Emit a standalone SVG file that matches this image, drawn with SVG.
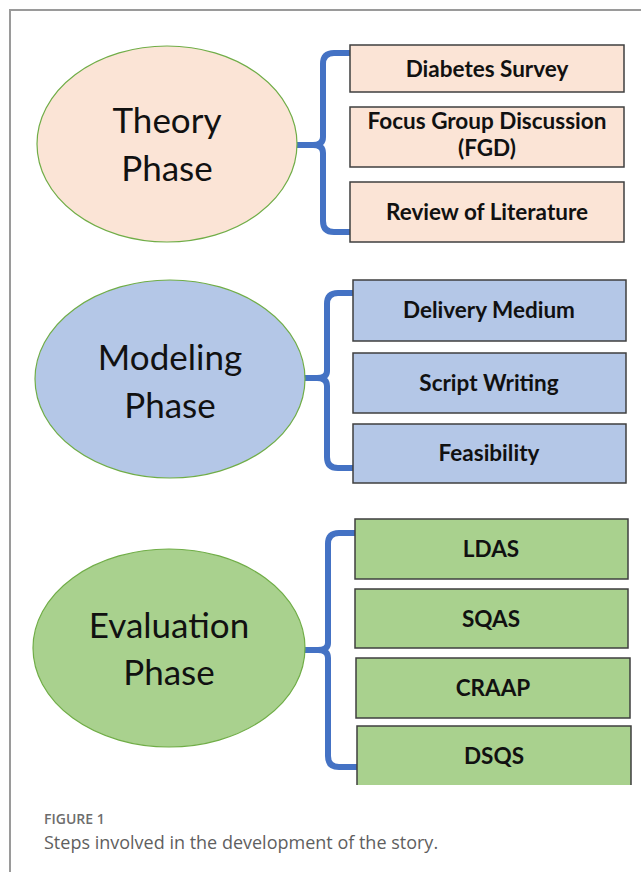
<svg xmlns="http://www.w3.org/2000/svg" width="641" height="872" viewBox="0 0 641 872">
<style>
.frame{fill:none;stroke:#9a9a9a;stroke-width:2}
.ell{stroke:#70ad47;stroke-width:1.2}
.box{stroke:#3f3f3f;stroke-width:1.5}
.theory{fill:#fbe4d6}
.model{fill:#b4c7e7}
.eval{fill:#a9d18e}
.brace{fill:none;stroke:#4472c4;stroke-width:6;stroke-linejoin:round}
.phase{font-family:Lato,"Open Sans",sans-serif;font-size:35px;fill:#111;text-anchor:middle}
.lbl{font-family:Lato,"Open Sans",sans-serif;font-weight:bold;font-size:22.5px;fill:#111;text-anchor:middle}
.figno{font-family:"Open Sans",sans-serif;font-size:14px;fill:#6d6d6d;font-weight:600}
.cap{font-family:"Open Sans",sans-serif;font-size:18px;fill:#5f5f5f}
</style>
<path class="frame" d="M10,872 V10 H641"/>

<g id="connectors">
<path class="brace" d="M350,53 H334 Q323,53 323,64 V137 Q323,145 313,145 H297 M313,145 Q323,145 323,153 V221 Q323,232 334,232 H350"/>
<path class="brace" d="M353,293 H338 Q327,293 327,304 V371 Q327,378 317,378 H304 M317,378 Q327,378 327,386 V457 Q327,468 338,468 H353"/>
<path class="brace" d="M355,533 H339 Q328,533 328,544 V643 Q328,650 318,650 H304 M318,650 Q328,650 328,658 V756 Q328,767 339,767 H357"/>
</g>

<g id="theory-phase">
<ellipse class="ell theory" cx="167" cy="144" rx="130" ry="98"/>
<text class="phase" x="167" y="133">Theory</text>
<text class="phase" x="167" y="181">Phase</text>
</g>
<g id="diabetes-survey">
<rect class="box theory" x="350" y="45" width="274" height="47"/>
<text class="lbl" x="487" y="77">Diabetes Survey</text>
</g>
<g id="fgd">
<rect class="box theory" x="350" y="107" width="274" height="60"/>
<text class="lbl" x="487" y="129">Focus Group Discussion</text>
<text class="lbl" x="487" y="156">(FGD)</text>
</g>
<g id="review-literature">
<rect class="box theory" x="350" y="182" width="274" height="60"/>
<text class="lbl" x="487" y="220">Review of Literature</text>
</g>

<g id="modeling-phase">
<ellipse class="ell model" cx="170" cy="379" rx="135" ry="99"/>
<text class="phase" x="170" y="370">Modeling</text>
<text class="phase" x="170" y="418">Phase</text>
</g>
<g id="delivery-medium">
<rect class="box model" x="353" y="280" width="273" height="61"/>
<text class="lbl" x="489" y="318">Delivery Medium</text>
</g>
<g id="script-writing">
<rect class="box model" x="353" y="353" width="273" height="60"/>
<text class="lbl" x="489" y="391">Script Writing</text>
</g>
<g id="feasibility">
<rect class="box model" x="353" y="424" width="273" height="59"/>
<text class="lbl" x="489" y="461">Feasibility</text>
</g>

<g id="evaluation-phase">
<ellipse class="ell eval" cx="169" cy="648" rx="136" ry="99"/>
<text class="phase" x="169" y="638">Evaluation</text>
<text class="phase" x="169" y="685">Phase</text>
</g>
<g id="ldas">
<rect class="box eval" x="355" y="519" width="273" height="60"/>
<text class="lbl" x="491" y="557">LDAS</text>
</g>
<g id="sqas">
<rect class="box eval" x="355" y="589" width="273" height="59"/>
<text class="lbl" x="491" y="627">SQAS</text>
</g>
<g id="craap">
<rect class="box eval" x="356" y="658" width="274" height="60"/>
<text class="lbl" x="493" y="696">CRAAP</text>
</g>
<g id="dsqs">
<path class="eval" d="M357,726 H631 V785 H357 Z"/>
<path fill="none" stroke="#3f3f3f" stroke-width="1.5" d="M357,785 V726 H631 V785"/>
<text class="lbl" x="494" y="764">DSQS</text>
</g>

<g id="caption">
<text class="figno" x="44" y="824">FIGURE 1</text>
<text class="cap" x="44" y="849">Steps involved in the development of the story.</text>
</g>
</svg>
